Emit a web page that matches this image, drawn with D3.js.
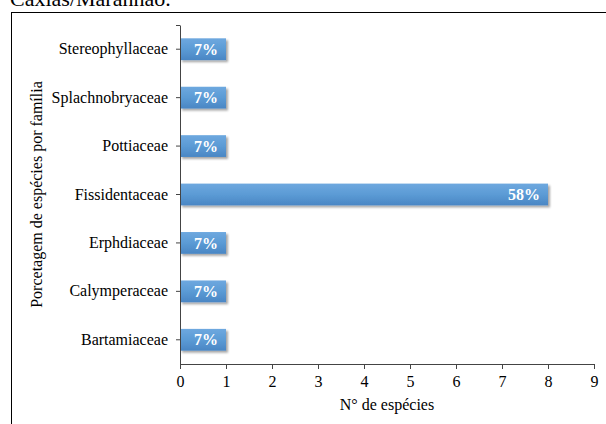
<!DOCTYPE html>
<html>
<head>
<meta charset="utf-8">
<script src="https://cdn.jsdelivr.net/npm/d3@7"></script>
<style>
  body { margin: 0; background: #fff; }
  svg { display: block; font-family: "Liberation Serif", "DejaVu Serif", serif; }
</style>
</head>
<body>
<svg id="svg" width="606" height="424"></svg>
<script>
// data
const families = ['Stereophyllaceae','Splachnobryaceae','Pottiaceae','Fissidentaceae','Erphdiaceae','Calymperaceae','Bartamiaceae'];
const species = [1, 1, 1, 8, 1, 1, 1];
const pctLabels = ['7%','7%','7%','58%','7%','7%','7%'];
const xTicks = [0,1,2,3,4,5,6,7,8,9];

const margin = {top: 25, right: 12, bottom: 60, left: 180};
const W = 606, H = 424;
const width = W - margin.left - margin.right;
const height = H - margin.top - margin.bottom;
const serif = '"Liberation Serif", "Times New Roman", serif';

const svg = d3.select('#svg');

// caption, cut off at the top like the source
svg.append('text').attr('x', 10).attr('y', 6)
  .attr('font-size', 22).attr('fill', '#000').text('Caxias/Maranhão.');

// chart border
svg.append('rect').attr('x', 11.5).attr('y', 12.5).attr('width', 620).attr('height', 430)
  .attr('fill', 'none').attr('stroke', '#000').attr('stroke-width', 1);

const defs = svg.append('defs');
const grad = defs.append('linearGradient').attr('id', 'barGrad')
  .attr('x1', 0).attr('y1', 0).attr('x2', 0).attr('y2', 1);
grad.append('stop').attr('offset', '0%').attr('stop-color', '#6ea8df');
grad.append('stop').attr('offset', '50%').attr('stop-color', '#5b9bd5');
grad.append('stop').attr('offset', '100%').attr('stop-color', '#4a86c4');
const shadow = defs.append('filter').attr('id', 'shadow')
  .attr('x', '-10%').attr('y', '-30%').attr('width', '130%').attr('height', '180%');
shadow.append('feDropShadow').attr('dx', 2).attr('dy', 2).attr('stdDeviation', 1.3)
  .attr('flood-color', '#000').attr('flood-opacity', 0.35);

const g = svg.append('g').attr('transform', `translate(${margin.left},${margin.top})`);

const x = d3.scaleLinear().domain([0, 9]).range([0, width]);
const y = d3.scaleBand().domain(families).range([0, height]).paddingInner(0.55).paddingOuter(0.275);

// bars
g.append('g').selectAll('rect')
  .data(families).join('rect')
    .attr('x', 0)
    .attr('y', d => y(d))
    .attr('width', (d, i) => x(species[i]))
    .attr('height', y.bandwidth())
    .attr('fill', 'url(#barGrad)')
    .attr('filter', 'url(#shadow)');

// labels inside bars
g.append('g').selectAll('text')
  .data(families).join('text')
    .attr('x', (d, i) => x(species[i]) - 8)
    .attr('y', d => y(d) + y.bandwidth() / 2)
    .attr('dy', '0.35em')
    .attr('text-anchor', 'end')
    .attr('fill', '#fff')
    .attr('font-weight', 'bold')
    .attr('font-size', 16)
    .text((d, i) => pctLabels[i]);

// x axis
const xAxis = g.append('g').attr('transform', `translate(0,${height})`)
  .call(d3.axisBottom(x).tickValues(xTicks).tickFormat(d3.format('d')).tickSizeInner(5).tickSizeOuter(0).tickPadding(7));
xAxis.attr('font-family', serif);
xAxis.select('.domain').attr('stroke', '#444');
xAxis.selectAll('.tick line').attr('stroke', '#444');
xAxis.selectAll('text').attr('font-size', 16).attr('fill', '#000');

// y axis
const yAxis = g.append('g')
  .call(d3.axisLeft(y).tickSizeInner(4).tickSizeOuter(0).tickPadding(8));
yAxis.attr('font-family', serif);
yAxis.select('.domain').attr('stroke', '#444');
yAxis.selectAll('.tick line').attr('stroke', '#444');
yAxis.selectAll('text').attr('font-size', 16).attr('fill', '#000');
g.append('line').attr('x1', -4).attr('x2', 0).attr('y1', 0.5).attr('y2', 0.5).attr('stroke', '#444');

// axis titles
svg.append('text').attr('x', margin.left + x(4.5)).attr('y', 410)
  .attr('text-anchor', 'middle').attr('font-size', 16).text('N° de espécies');
svg.append('text')
  .attr('transform', `translate(42,${margin.top + height / 2 + 0}) rotate(-90)`)
  .attr('text-anchor', 'middle').attr('font-size', 16).text('Porcetagem de espécies por família');
</script>
</body>
</html>
